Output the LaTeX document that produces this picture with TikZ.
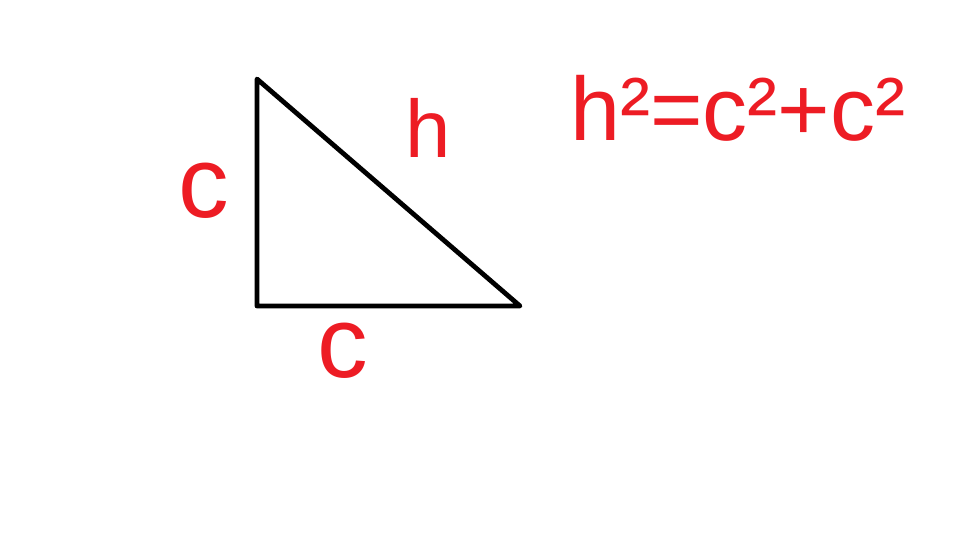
\documentclass[tikz,border=0pt]{standalone}
\usepackage{fontspec}
\setmainfont{Liberation Sans}
\definecolor{PaintRed}{HTML}{ED1C24}
\tikzset{
  HandLabel/.style={text=PaintRed, inner sep=0pt, font=\fontsize{#1}{#1}\selectfont},
  HandLabel/.default=64
}

\begin{document}
\begin{tikzpicture}[x=0.025cm, y=-0.025cm, line join=round]
    \path[use as bounding box] (0,0) rectangle (960,540);
    \coordinate (Top) at (257,79);
    \coordinate (Corner) at (257,306);
    \coordinate (Right) at (520,306);
    \draw[line width=3.4pt] (Top) -- (Corner) -- (Right) -- cycle;

    \node[HandLabel=72] (LeftLeg) at (204,191) {c};
    \node[HandLabel=72] (BottomLeg) at (343,351) {c};
    \node[HandLabel=58] (Hyp) at (428,128) {h};
    \node[HandLabel, anchor=base west] (Formula) at (570,140) {h²=c²+c²};
\end{tikzpicture}
\end{document}
